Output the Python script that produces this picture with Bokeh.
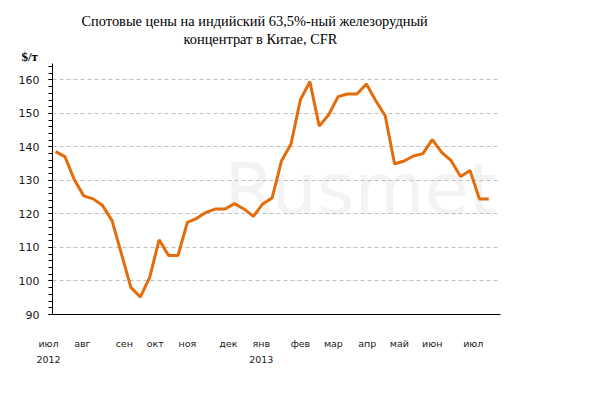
from bokeh.plotting import figure
from bokeh.models import (Range1d, SingleIntervalTicker, FixedTicker, Label,
                          LinearAxis, Title)
from bokeh.embed import file_html
from bokeh.resources import INLINE

# Weekly spot prices, $/t (Indian 63.5% Fe fines, CFR China), Jul 2012 - Jun 2013
prices = [138.6, 137.1, 130.2, 125.4, 124.5, 122.5, 118.0, 108.1, 98.1, 95.2,
          101.1, 112.3, 107.6, 107.6, 117.5, 118.7, 120.5, 121.5, 121.5, 123.1,
          121.5, 119.3, 123.0, 124.8, 135.9, 140.9, 154.1, 159.5, 146.2, 149.6,
          155.0, 155.8, 155.8, 158.8, 153.8, 149.3, 134.9, 135.8, 137.3, 138.0,
          142.2, 138.4, 135.9, 131.2, 133.0, 124.5, 124.5]
weeks = list(range(len(prices)))

month_labels = ["июл", "авг", "сен", "окт", "ноя", "дек", "янв",
                "фев", "мар", "апр", "май", "июн", "июл"]
month_pos = [-0.74, 2.85, 7.3, 10.6, 14.0, 18.35, 21.85,
             26.0, 29.5, 33.1, 36.5, 40.0, 44.35]
year_labels = ["2012", "2013"]
year_pos = [-0.74, 21.85]

title_lines = ["Спотовые цены на индийский  63,5%-ный железорудный",
               "концентрат в Китае, CFR"]
unit_label = "$/т"

LABEL_COLOR = "#1a1a1a"
X_START, X_END = -0.32, 47.24
FRAME_W, FRAME_H = 448, 251
LEFT, TOP = 52, 63
XLAB_FONT, XLAB_PX = "DejaVu Sans", 9.5
scale = FRAME_W / (X_END - X_START)

# A label centred left of the plot edge cannot get a tick there, so its tick is
# moved inside and the text is padded with no-break spaces on the right.
N_PAD = 4
NBSP_PX = 0.318 * XLAB_PX


def axis_ticks(positions, labels):
    ticks, overrides = [], {}
    for pos, lab in zip(positions, labels):
        if pos < X_START:
            pos = pos + (N_PAD * NBSP_PX / 2) / scale
            lab = lab + "\u00a0" * N_PAD
        ticks.append(pos)
        overrides[pos] = lab
    return ticks, overrides


p = figure(frame_width=FRAME_W, frame_height=FRAME_H,
           x_range=Range1d(X_START, X_END), y_range=Range1d(90, 164.9),
           output_backend="svg", toolbar_location=None,
           min_border_left=LEFT, min_border_right=50,
           min_border_top=TOP, min_border_bottom=60)
p.outline_line_color = None
p.background_fill_color = "white"
p.border_fill_color = "white"

# Watermark
p.add_layout(Label(x=172, y=126, x_units="screen", y_units="screen",
                   text="Rusmet", text_font="DejaVu Sans",
                   text_font_size="72px", text_color="#f3f3f3",
                   text_baseline="alphabetic", level="image"))

# grid
p.xgrid.visible = False
p.ygrid.ticker = SingleIntervalTicker(interval=10)
p.ygrid.grid_line_color = "#c0c0c0"
p.ygrid.grid_line_dash = "4 3"
p.ygrid.grid_line_width = 1

# y axis
ya = p.yaxis[0]
ya.ticker = SingleIntervalTicker(interval=10, num_minor_ticks=5)
ya.axis_line_color = "black"
ya.major_tick_line_color = "black"
ya.minor_tick_line_color = "black"
ya.major_tick_in = 0
ya.major_tick_out = 4
ya.minor_tick_in = 0
ya.minor_tick_out = 4
ya.major_label_standoff = 9
ya.major_label_text_font = "DejaVu Sans"
ya.major_label_text_font_size = "11px"
ya.major_label_text_color = LABEL_COLOR

# x axis: line only
xa = p.xaxis[0]
xa.ticker = FixedTicker(ticks=[])
xa.axis_line_color = "black"
xa.major_tick_in = 0
xa.major_tick_out = 0
xa.minor_tick_in = 0
xa.minor_tick_out = 0

# month labels axis
m_ticks, m_over = axis_ticks(month_pos, month_labels)
xm = LinearAxis(ticker=FixedTicker(ticks=m_ticks), major_label_overrides=m_over,
                axis_line_color=None, major_tick_in=0, major_tick_out=0,
                minor_tick_in=0, minor_tick_out=0,
                major_label_standoff=23,
                major_label_text_font=XLAB_FONT,
                major_label_text_font_size=f"{XLAB_PX}px",
                major_label_text_color=LABEL_COLOR)
p.add_layout(xm, "below")

# year labels axis
y_ticks, y_over = axis_ticks(year_pos, year_labels)
xy = LinearAxis(ticker=FixedTicker(ticks=y_ticks), major_label_overrides=y_over,
                axis_line_color=None, major_tick_in=0, major_tick_out=0,
                minor_tick_in=0, minor_tick_out=0,
                major_label_standoff=2,
                major_label_text_font=XLAB_FONT,
                major_label_text_font_size=f"{XLAB_PX}px",
                major_label_text_color=LABEL_COLOR)
p.add_layout(xy, "below")

p.line(weeks, prices, line_color="#E46C0A", line_width=3)

# Titles (first added is closest to the plot); left-aligned with pixel offsets
p.add_layout(Title(text=unit_label, align="left", offset=-31, standoff=0,
                   text_font="Liberation Serif", text_font_size="13px",
                   text_font_style="bold", text_color="black"), "above")
p.add_layout(Title(text=title_lines[1], align="left", offset=131, standoff=0,
                   text_font="Liberation Serif", text_font_size="14.4px",
                   text_font_style="normal", text_color="black"), "above")
p.add_layout(Title(text=title_lines[0], align="left", offset=29, standoff=0,
                   text_font="Liberation Serif", text_font_size="14.4px",
                   text_font_style="normal", text_color="black"), "above")

open("out.html", "w").write(file_html(p, INLINE))
